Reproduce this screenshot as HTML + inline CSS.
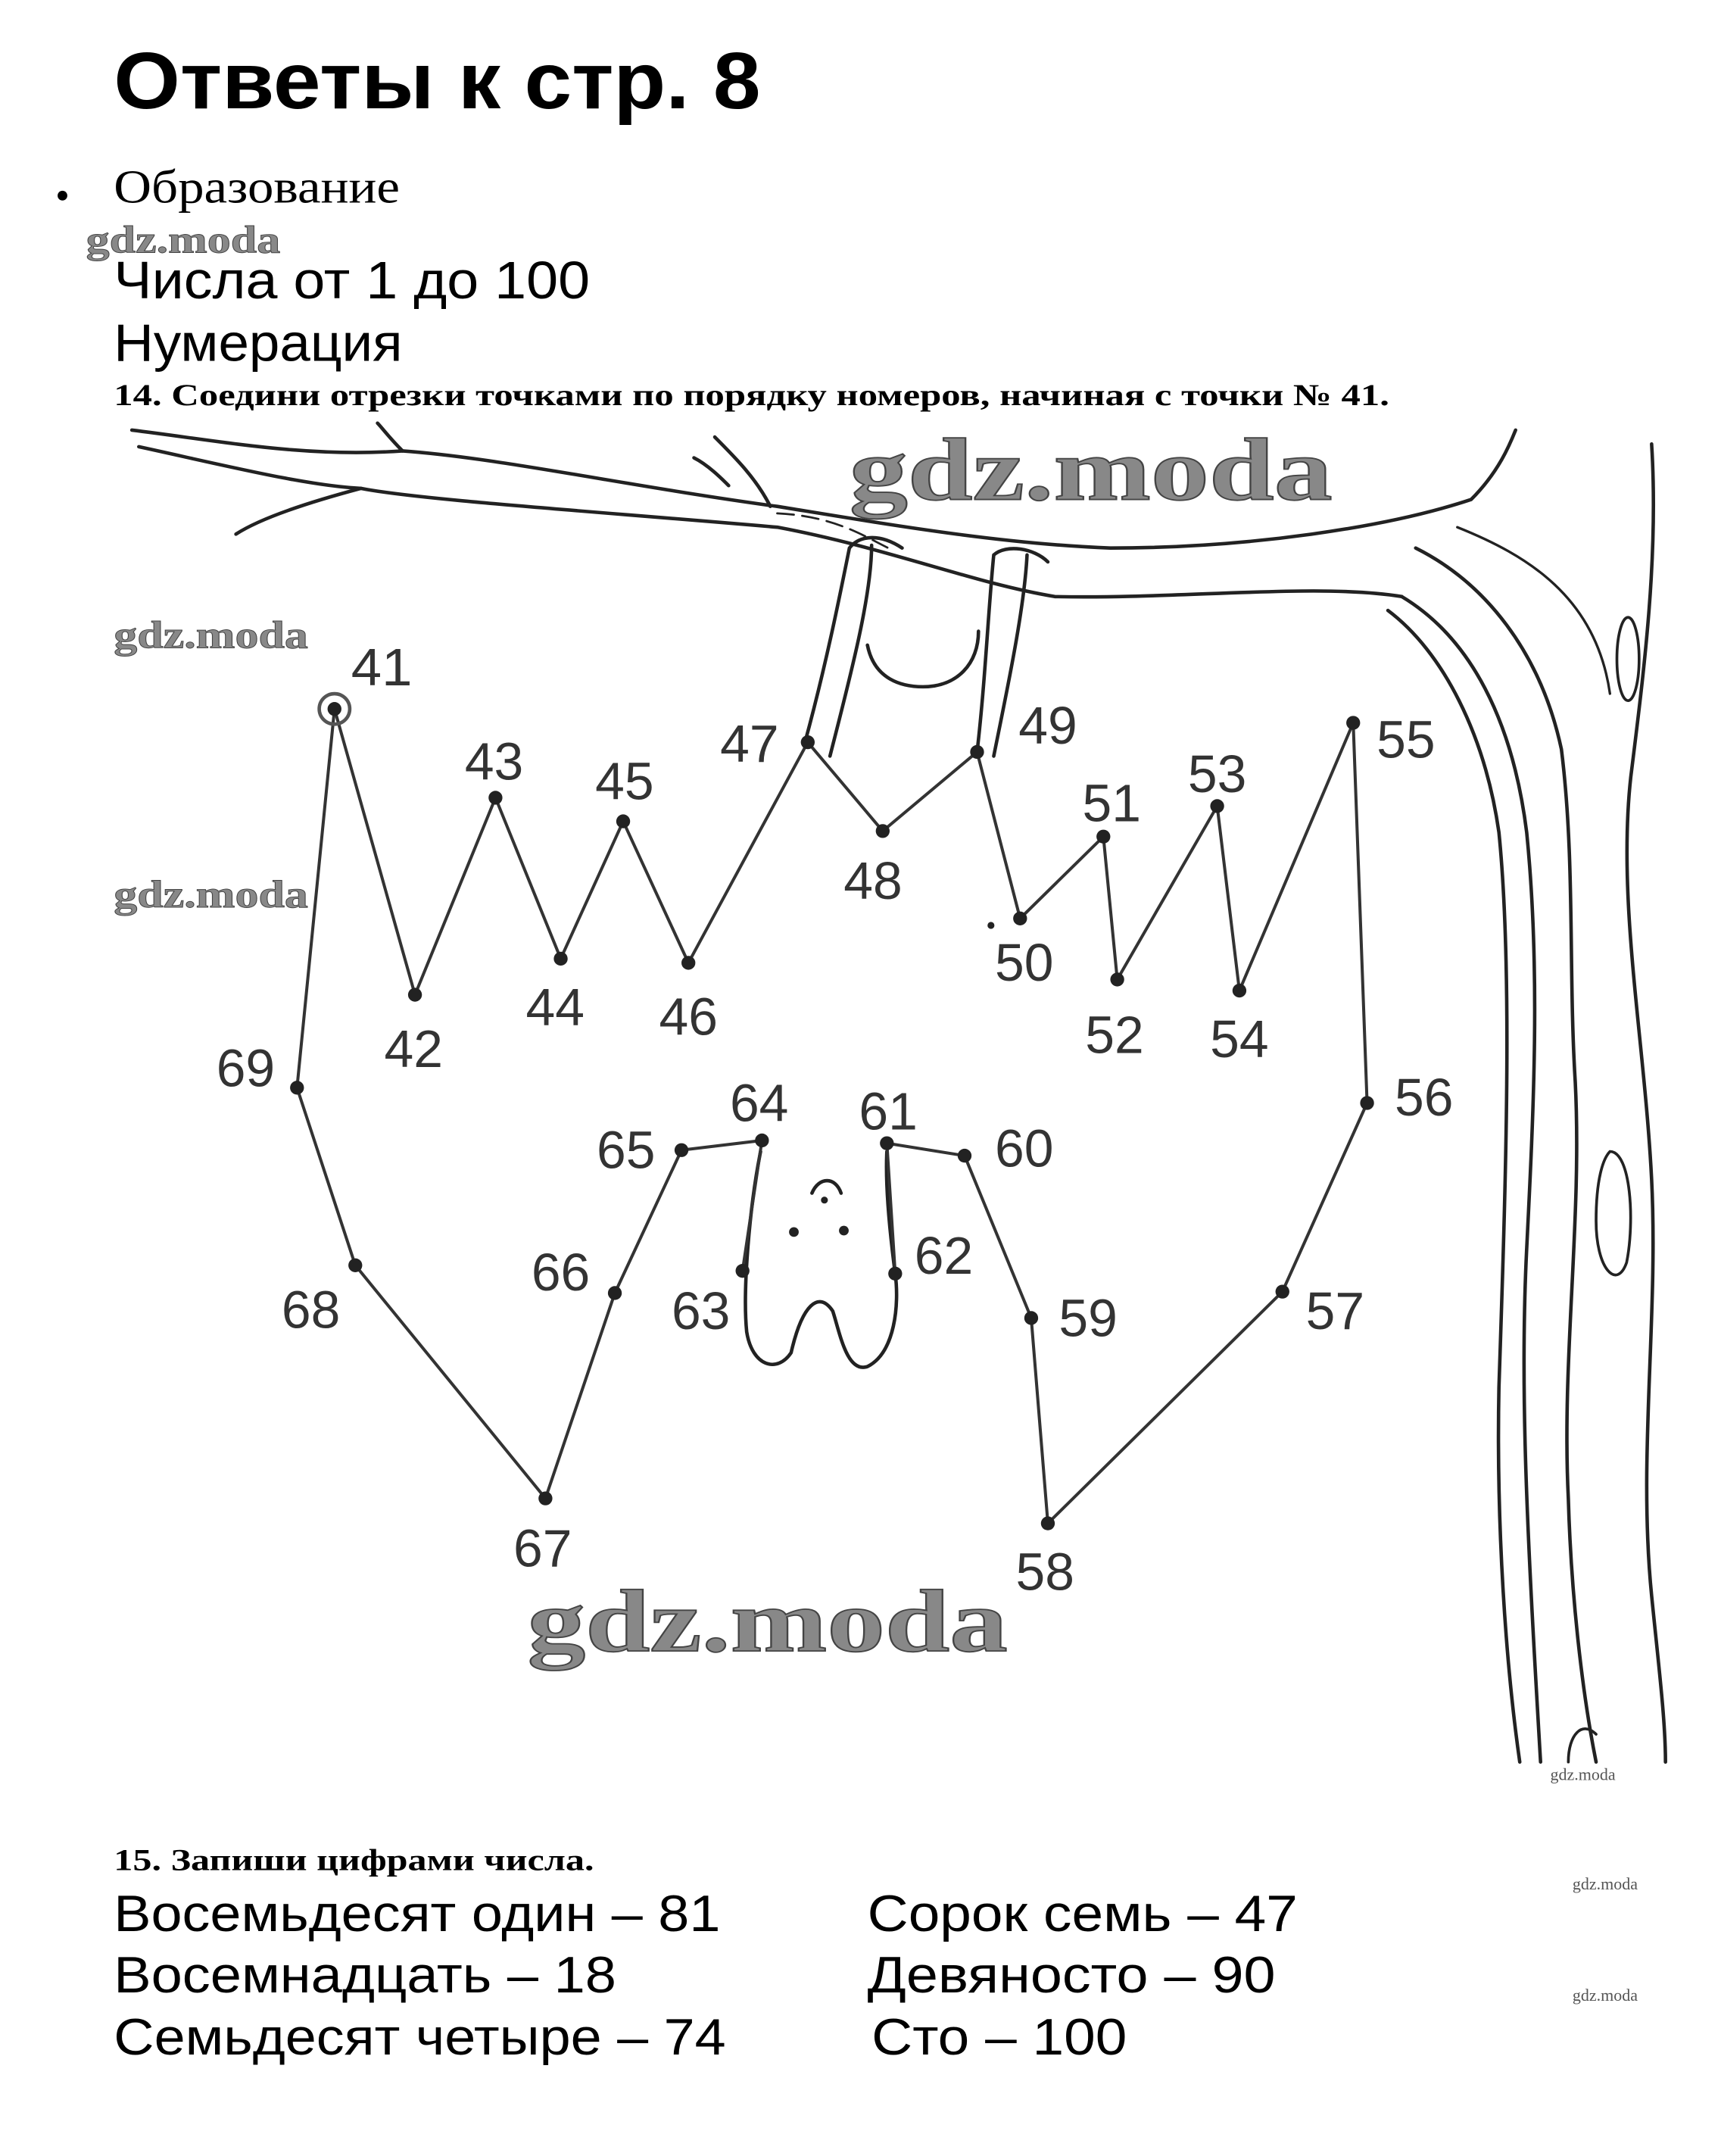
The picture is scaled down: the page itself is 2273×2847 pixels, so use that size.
<!DOCTYPE html>
<html><head><meta charset="utf-8"><style>html,body{margin:0;padding:0;background:#fff;}svg{display:block}</style></head>
<body>
<svg width="2273" height="2847" viewBox="0 0 1240 1554" preserveAspectRatio="none" xmlns="http://www.w3.org/2000/svg">
<rect width="1240" height="1554" fill="#fff"/>
<g font-family="Liberation Sans, sans-serif" fill="#000">
<text x="82" y="78" font-size="58" font-weight="bold" textLength="466" lengthAdjust="spacingAndGlyphs">Ответы к стр. 8</text>
<circle cx="45" cy="141" r="3.5"/>
<text x="82" y="146" font-size="34" font-family="Liberation Serif, serif" textLength="206" lengthAdjust="spacingAndGlyphs">Образование</text>
<text x="82" y="215" font-size="38" textLength="343" lengthAdjust="spacingAndGlyphs">Числа от 1 до 100</text>
<text x="82" y="260" font-size="38" textLength="208" lengthAdjust="spacingAndGlyphs">Нумерация</text>
<text x="82" y="292" font-size="22" font-weight="bold" font-family="Liberation Serif, serif" textLength="919" lengthAdjust="spacingAndGlyphs">14. Соедини отрезки точками по порядку номеров, начиная с точки № 41.</text>
<text x="82" y="1348" font-size="22" font-weight="bold" font-family="Liberation Serif, serif" textLength="346" lengthAdjust="spacingAndGlyphs">15. Запиши цифрами числа.</text>
<text x="82" y="1392" font-size="37" textLength="437" lengthAdjust="spacingAndGlyphs">Восемьдесят один – 81</text>
<text x="82" y="1436" font-size="37" textLength="362" lengthAdjust="spacingAndGlyphs">Восемнадцать – 18</text>
<text x="82" y="1481" font-size="37" textLength="441" lengthAdjust="spacingAndGlyphs">Семьдесят четыре – 74</text>
<text x="625" y="1392" font-size="37" textLength="310" lengthAdjust="spacingAndGlyphs">Сорок семь – 47</text>
<text x="625" y="1436" font-size="37" textLength="294" lengthAdjust="spacingAndGlyphs">Девяносто – 90</text>
<text x="628" y="1481" font-size="37" textLength="184" lengthAdjust="spacingAndGlyphs">Сто – 100</text>
</g>
<!-- tree -->
<g fill="none" stroke="#222" stroke-width="2.5" stroke-linecap="round">
<path d="M95,310 C160,318 220,330 290,325 C360,330 450,350 560,365 C640,378 720,392 800,395 C900,395 1000,380 1060,360 C1080,340 1088,320 1092,310"/>
<path d="M100,322 C160,335 220,350 260,352 C300,360 420,368 560,380 C640,395 700,420 760,430 C850,432 950,420 1010,430"/>
<path d="M260,352 C230,360 190,372 170,385 M290,325 C280,315 275,308 272,305 M500,330 C510,335 520,345 525,350 M515,315 C530,330 545,345 555,365"/>
<path d="M1010,430 C1060,460 1090,520 1100,600 C1110,700 1105,800 1100,900 C1095,1000 1100,1100 1110,1270"/>
<path d="M1190,320 C1195,400 1185,480 1175,560 C1165,650 1185,750 1190,850 C1195,950 1180,1050 1190,1150 C1195,1200 1200,1240 1200,1270"/>
<path d="M1000,440 C1040,470 1070,530 1080,600 C1090,700 1085,850 1080,1000 C1078,1100 1085,1200 1095,1270"/>
<path d="M1020,395 C1070,420 1110,470 1125,540 C1135,620 1130,700 1135,780 C1140,880 1125,980 1130,1080 C1132,1150 1140,1220 1150,1270"/>
<path d="M1050,380 C1100,400 1150,430 1160,500" stroke-width="1.8"/>
<ellipse cx="1173" cy="475" rx="8" ry="30" stroke-width="2"/>
<path d="M1160,830 C1175,830 1178,880 1172,910 C1165,930 1150,915 1150,880 C1150,850 1155,835 1160,830 Z" stroke-width="2"/>
<path d="M1130,1270 C1130,1250 1140,1240 1150,1250" stroke-width="2"/>
<path d="M560,370 C600,372 620,385 640,395" stroke-width="1.5" stroke-dasharray="12,6"/>
<!-- arms -->
<path d="M612,395 C605,430 595,480 580,535 M628,393 C628,430 612,490 598,545 M612,395 C620,385 635,385 650,395"/>
<path d="M716,400 C712,440 710,490 704,542 M740,400 C738,440 725,500 716,545 M716,400 C725,392 745,395 755,405"/>
<path d="M625,465 C630,490 650,495 665,495 C690,495 705,478 705,455"/>
<!-- body/face -->
<path d="M548,830 C540,870 535,930 538,960 C542,985 560,990 570,975 C578,940 590,930 600,945 C605,960 610,990 625,985 C645,975 648,940 645,918 C640,880 638,850 639,830"/>
<path d="M585,860 C590,848 602,848 606,860"/>
</g>
<g fill="#222"><circle cx="572" cy="888" r="3.5"/><circle cx="608" cy="887" r="3.5"/><circle cx="594" cy="865" r="2.5"/><circle cx="714" cy="667" r="2.5"/></g>
<!-- dots path -->
<polyline fill="none" stroke="#333" stroke-width="2.2" points="241,511 299,717 357,575 404,691 449,592 496,694 582,535 636,599 704,542 735,662 795,603 805,706 877,581 893,714 975,521 985,795 924,931 755,1098 743,950 695,833 639,824 645,918 M0,0"/>
<polyline fill="none" stroke="#333" stroke-width="2.2" points="535,916 549,822 491,829 443,932 393,1080 256,912 214,784 241,511"/>
<g fill="#222">
<circle cx="241" cy="511" r="5"/><circle cx="241" cy="511" r="11" fill="none" stroke="#555" stroke-width="2.5"/>
<circle cx="299" cy="717" r="5"/><circle cx="357" cy="575" r="5"/><circle cx="404" cy="691" r="5"/><circle cx="449" cy="592" r="5"/><circle cx="496" cy="694" r="5"/><circle cx="582" cy="535" r="5"/><circle cx="636" cy="599" r="5"/><circle cx="704" cy="542" r="5"/><circle cx="735" cy="662" r="5"/><circle cx="795" cy="603" r="5"/><circle cx="805" cy="706" r="5"/><circle cx="877" cy="581" r="5"/><circle cx="893" cy="714" r="5"/><circle cx="975" cy="521" r="5"/><circle cx="985" cy="795" r="5"/><circle cx="924" cy="931" r="5"/><circle cx="755" cy="1098" r="5"/><circle cx="743" cy="950" r="5"/><circle cx="695" cy="833" r="5"/><circle cx="639" cy="824" r="5"/><circle cx="645" cy="918" r="5"/><circle cx="535" cy="916" r="5"/><circle cx="549" cy="822" r="5"/><circle cx="491" cy="829" r="5"/><circle cx="443" cy="932" r="5"/><circle cx="393" cy="1080" r="5"/><circle cx="256" cy="912" r="5"/><circle cx="214" cy="784" r="5"/>
</g>
<g font-family="Liberation Sans, sans-serif" font-size="38" fill="#333" text-anchor="middle" transform="translate(0,14)">
<text x="275" y="480" textLength="44" lengthAdjust="spacingAndGlyphs">41</text>
<text x="298" y="755">42</text><text x="356" y="548">43</text><text x="400" y="725">44</text><text x="450" y="562">45</text><text x="496" y="732">46</text><text x="540" y="535">47</text><text x="629" y="634">48</text><text x="755" y="522">49</text><text x="738" y="693">50</text><text x="801" y="578">51</text><text x="803" y="745">52</text><text x="877" y="557">53</text><text x="893" y="748">54</text><text x="1013" y="532">55</text><text x="1026" y="790">56</text><text x="962" y="944">57</text><text x="753" y="1132">58</text><text x="784" y="949">59</text><text x="738" y="827">60</text><text x="640" y="800">61</text><text x="680" y="904">62</text><text x="505" y="944">63</text><text x="547" y="794">64</text><text x="451" y="828">65</text><text x="404" y="916">66</text><text x="391" y="1115">67</text><text x="224" y="943">68</text><text x="177" y="769">69</text>
</g>
<!-- watermarks -->
<g font-family="Liberation Serif, serif" font-weight="bold" fill="#888" stroke="#444" stroke-width="1">
<text x="612" y="360" font-size="64" textLength="348" lengthAdjust="spacingAndGlyphs">gdz.moda</text>
<text x="380" y="1190" font-size="64" textLength="346" lengthAdjust="spacingAndGlyphs">gdz.moda</text>
<text x="82" y="467" font-size="28" textLength="140" lengthAdjust="spacingAndGlyphs" stroke-width="0.5">gdz.moda</text>
<text x="82" y="654" font-size="28" textLength="140" lengthAdjust="spacingAndGlyphs" stroke-width="0.5">gdz.moda</text>
<text x="62" y="182" font-size="28" textLength="140" lengthAdjust="spacingAndGlyphs" stroke-width="0.5">gdz.moda</text>
</g>
<g font-family="Liberation Serif, serif" font-size="12" fill="#555">
<text x="1117" y="1283">gdz.moda</text><text x="1133" y="1362">gdz.moda</text><text x="1133" y="1442">gdz.moda</text>
</g>
</svg>
</body></html>
